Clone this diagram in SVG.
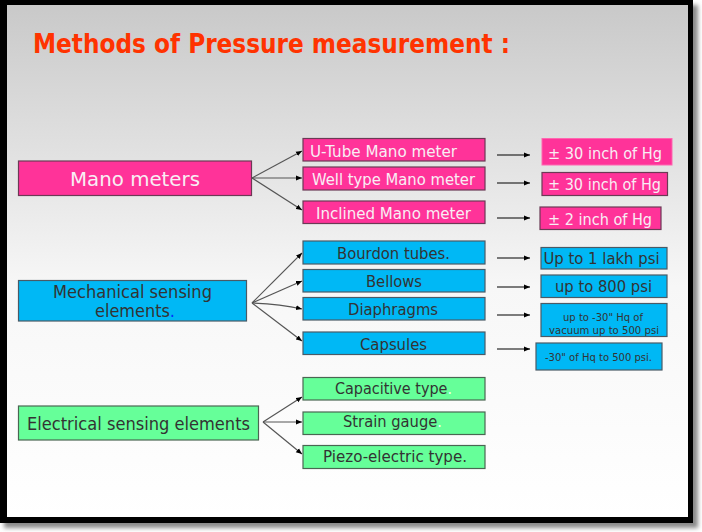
<svg xmlns="http://www.w3.org/2000/svg" width="702" height="532" viewBox="0 0 702 532">
<defs>
<linearGradient id="bg" x1="0" y1="0" x2="0" y2="1">
<stop offset="0" stop-color="#c9c9c9"/>
<stop offset="0.55" stop-color="#f7f7f7"/>
<stop offset="1" stop-color="#ffffff"/>
</linearGradient>
<filter id="sh" x="-5%" y="-5%" width="110%" height="110%"><feGaussianBlur stdDeviation="2"/></filter>
<marker id="ah" viewBox="0 0 6 6" refX="6" refY="3" markerWidth="6" markerHeight="6" markerUnits="userSpaceOnUse" orient="auto">
<path d="M0,0.5 L6,3 L0,5.5 Z" fill="#000"/>
</marker>
<style>
.t{font-family:"DejaVu Sans","Liberation Sans",sans-serif;}
.pk{fill:#ff3399;stroke:#6b3a55;stroke-width:1.2;}
.bl{fill:#00b8f5;stroke:#4a5a66;stroke-width:1.2;}
.gr{fill:#66ff99;stroke:#4a6652;stroke-width:1.2;}
.wt{fill:#f8eef4;}
.dk{fill:#333333;}
.fan{stroke:#555;stroke-width:1.2;fill:none;}
.ar{stroke:#000;stroke-width:1.2;fill:none;}
</style>
</defs>
<rect x="4" y="5" width="694" height="523" fill="#8a8a8a" filter="url(#sh)"/>
<rect x="0" y="0" width="693" height="523" fill="#000"/>
<rect x="7" y="5" width="681" height="512" fill="url(#bg)"/>
<text class="t" x="33" y="53" font-size="26" font-weight="bold" fill="#ff3300" textLength="477" lengthAdjust="spacingAndGlyphs">Methods of Pressure measurement :</text>

<g id="connectors">
<line class="fan" x1="252" y1="178" x2="302" y2="151" marker-end="url(#ah)"/>
<line class="fan" x1="252" y1="178" x2="302" y2="178" marker-end="url(#ah)"/>
<line class="fan" x1="252" y1="178" x2="302" y2="210" marker-end="url(#ah)"/>
<line class="fan" x1="252" y1="303" x2="302" y2="253" marker-end="url(#ah)"/>
<line class="fan" x1="252" y1="303" x2="302" y2="281" marker-end="url(#ah)"/>
<path class="fan" d="M252,303 Q280,304 302,309" marker-end="url(#ah)"/>
<line class="fan" x1="252" y1="303" x2="302" y2="341" marker-end="url(#ah)"/>
<line class="fan" x1="263" y1="422" x2="302" y2="397" marker-end="url(#ah)"/>
<line class="fan" x1="263" y1="422" x2="302" y2="422" marker-end="url(#ah)"/>
<line class="fan" x1="263" y1="422" x2="302" y2="454" marker-end="url(#ah)"/>
<line class="ar" x1="497" y1="155" x2="530" y2="155" marker-end="url(#ah)"/>
<line class="ar" x1="497" y1="183" x2="530" y2="183" marker-end="url(#ah)"/>
<line class="ar" x1="497" y1="218" x2="530" y2="218" marker-end="url(#ah)"/>
<line class="ar" x1="497" y1="258" x2="530" y2="258" marker-end="url(#ah)"/>
<line class="ar" x1="497" y1="287" x2="530" y2="287" marker-end="url(#ah)"/>
<line class="ar" x1="497" y1="315" x2="530" y2="315" marker-end="url(#ah)"/>
<line class="ar" x1="497" y1="349" x2="530" y2="349" marker-end="url(#ah)"/>
</g>

<g id="mano">
<rect class="pk" x="18.5" y="161" width="233" height="34.5"/>
<text class="t wt" x="70" y="186" font-size="20" textLength="130" lengthAdjust="spacingAndGlyphs">Mano meters</text>
</g>
<g id="utube">
<rect class="pk" x="303" y="138.5" width="182" height="22.5"/>
<text class="t wt" x="310" y="157" font-size="16" textLength="147" lengthAdjust="spacingAndGlyphs">U-Tube Mano meter</text>
</g>
<g id="welltype">
<rect class="pk" x="303" y="167" width="182" height="23"/>
<text class="t wt" x="312" y="184.5" font-size="16" textLength="163" lengthAdjust="spacingAndGlyphs">Well type Mano meter</text>
</g>
<g id="inclined">
<rect class="pk" x="303" y="201" width="182" height="22.5"/>
<text class="t wt" x="316" y="219" font-size="16" textLength="155" lengthAdjust="spacingAndGlyphs">Inclined Mano meter</text>
</g>
<g id="r-utube">
<rect x="542" y="138.5" width="130" height="26.5" fill="#ff3399" stroke="#ff66b0" stroke-width="1"/>
<text class="t wt" x="548" y="158.5" font-size="16" textLength="114" lengthAdjust="spacingAndGlyphs">± 30 inch of Hg</text>
</g>
<g id="r-well">
<rect class="pk" x="542" y="172.5" width="125.5" height="23"/>
<text class="t wt" x="548" y="190" font-size="16" textLength="113" lengthAdjust="spacingAndGlyphs">± 30 inch of Hg</text>
</g>
<g id="r-inclined">
<rect class="pk" x="540" y="207" width="121" height="22.5"/>
<text class="t wt" x="548" y="225" font-size="16" textLength="104" lengthAdjust="spacingAndGlyphs">± 2 inch of Hg</text>
</g>

<g id="mechanical">
<rect class="bl" x="18.5" y="280.5" width="228" height="40.5"/>
<text class="t dk" x="53" y="298" font-size="17" textLength="159" lengthAdjust="spacingAndGlyphs">Mechanical sensing</text>
<text class="t dk" x="95" y="317" font-size="17" textLength="80" lengthAdjust="spacingAndGlyphs">elements<tspan fill="#0033ff">.</tspan></text>
</g>
<g id="bourdon">
<rect class="bl" x="303" y="241" width="182" height="23"/>
<text class="t dk" x="337" y="258.5" font-size="16" textLength="113" lengthAdjust="spacingAndGlyphs">Bourdon tubes.</text>
</g>
<g id="bellows">
<rect class="bl" x="303" y="269.5" width="182" height="22.5"/>
<text class="t dk" x="366" y="287" font-size="16" textLength="56" lengthAdjust="spacingAndGlyphs">Bellows</text>
</g>
<g id="diaphragms">
<rect class="bl" x="303" y="297.5" width="182" height="22.5"/>
<text class="t dk" x="348" y="314.5" font-size="16" textLength="90" lengthAdjust="spacingAndGlyphs">Diaphragms</text>
</g>
<g id="capsules">
<rect class="bl" x="303" y="332" width="182" height="22.5"/>
<text class="t dk" x="360" y="349.5" font-size="16" textLength="67" lengthAdjust="spacingAndGlyphs">Capsules</text>
</g>
<g id="r-bourdon">
<rect class="bl" x="541" y="247.5" width="126" height="21.5"/>
<text class="t dk" x="543.5" y="263.5" font-size="16" textLength="116" lengthAdjust="spacingAndGlyphs">Up to 1 lakh psi</text>
</g>
<g id="r-bellows">
<rect class="bl" x="541" y="275" width="126" height="22.5"/>
<text class="t dk" x="555" y="292" font-size="16" textLength="97" lengthAdjust="spacingAndGlyphs">up to 800 psi</text>
</g>
<g id="r-diaphragms">
<rect class="bl" x="541" y="303.5" width="126" height="33"/>
<text class="t dk" x="563" y="321" font-size="10" textLength="80" lengthAdjust="spacingAndGlyphs">up to -30" Hq of</text>
<text class="t dk" x="549" y="334" font-size="10" textLength="110" lengthAdjust="spacingAndGlyphs">vacuum  up to 500 psi</text>
</g>
<g id="r-capsules">
<rect class="bl" x="536" y="343" width="126" height="27"/>
<text class="t dk" x="545" y="360.5" font-size="11" textLength="107" lengthAdjust="spacingAndGlyphs">-30" of Hq to 500 psi.</text>
</g>

<g id="electrical">
<rect class="gr" x="18.5" y="406" width="240" height="34"/>
<text class="t dk" x="27" y="430" font-size="18" textLength="223" lengthAdjust="spacingAndGlyphs">Electrical sensing elements</text>
</g>
<g id="capacitive">
<rect class="gr" x="303" y="377.5" width="182" height="22.5"/>
<text class="t dk" x="335" y="393.5" font-size="16" textLength="117" lengthAdjust="spacingAndGlyphs">Capacitive type<tspan fill="#f0fff4">.</tspan></text>
</g>
<g id="strain">
<rect class="gr" x="303" y="412" width="182" height="22.5"/>
<text class="t dk" x="343" y="427" font-size="16" textLength="99" lengthAdjust="spacingAndGlyphs">Strain gauge<tspan fill="#f0fff4">.</tspan></text>
</g>
<g id="piezo">
<rect class="gr" x="303" y="445.5" width="182" height="23"/>
<text class="t dk" x="323" y="462" font-size="16" textLength="144" lengthAdjust="spacingAndGlyphs">Piezo-electric type.</text>
</g>
</svg>
